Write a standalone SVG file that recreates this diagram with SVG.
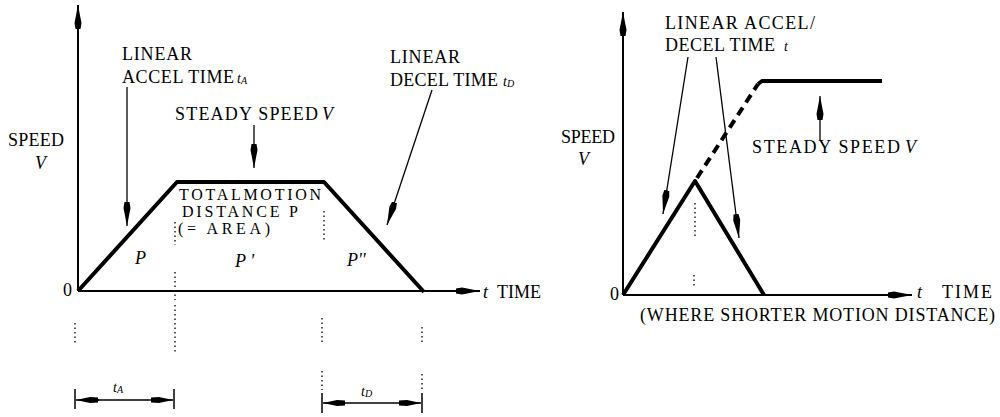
<svg xmlns="http://www.w3.org/2000/svg" width="1000" height="417" viewBox="0 0 1000 417">
<defs>
<marker id="ah" viewBox="0 0 24 8" refX="24" refY="4" markerWidth="24" markerHeight="8" markerUnits="userSpaceOnUse" orient="auto">
<path d="M0,1.5 L6,0.5 L24,4 L6,7.5 L0,6.5 Z" fill="#000"/>
</marker>
<marker id="ahs" viewBox="0 0 22 7" refX="22" refY="3.5" markerWidth="22" markerHeight="7" markerUnits="userSpaceOnUse" orient="auto">
<path d="M0,1 L8,0.5 L22,3.5 L8,6.5 L0,6 Z" fill="#000"/>
</marker>
</defs>
<style>
text{font-family:"Liberation Serif","Times New Roman",serif;font-size:18px;fill:#000}
.i{font-style:italic}
.s{font-size:14px;font-style:italic}
.b{font-size:16px}
.ax{stroke:#000;stroke-width:2;fill:none}
.cv{stroke:#000;stroke-width:4;fill:none;stroke-linejoin:round}
.ld{stroke:#000;stroke-width:1.3;fill:none}
.dt{stroke:#000;stroke-width:1.3;stroke-dasharray:1.5 3;fill:none}
.dim{stroke:#000;stroke-width:1.5;fill:none}
</style>
<g id="left-chart">
<g id="axes-left">
<line class="ax" x1="78" y1="291" x2="78" y2="5" marker-end="url(#ah)"/>
<line class="ax" x1="78" y1="291" x2="480" y2="291" marker-end="url(#ah)"/>
<text x="63" y="296">0</text>
<text x="8" y="146" textLength="56" lengthAdjust="spacing">SPEED</text>
<text x="35" y="169" class="i">V</text>
<text x="483" y="298" class="i">t</text>
<text x="497" y="298" textLength="44" lengthAdjust="spacing">TIME</text>
</g>
<g id="trapezoid">
<polyline class="cv" points="78,291 177,182 324,182 424,292"/>
</g>
<g id="label-accel">
<text x="122" y="60" textLength="70" lengthAdjust="spacing">LINEAR</text>
<text x="122" y="83" textLength="112" lengthAdjust="spacing">ACCEL TIME</text>
<text x="237" y="83" class="s">t<tspan font-size="10" dy="1">A</tspan></text>
</g>
<g id="label-steady">
<text x="175" y="120" textLength="143" lengthAdjust="spacing">STEADY SPEED</text>
<text x="322" y="120" class="i">V</text>
</g>
<g id="label-decel">
<text x="390" y="63" textLength="70" lengthAdjust="spacing">LINEAR</text>
<text x="390" y="86" textLength="108" lengthAdjust="spacing">DECEL TIME</text>
<text x="503" y="86" class="s">t<tspan font-size="10" dy="1">D</tspan></text>
</g>
<g id="label-total">
<text x="179" y="200" class="b" textLength="142" lengthAdjust="spacing">TOTALMOTION</text>
<text x="182" y="217" class="b" textLength="116" lengthAdjust="spacing">DISTANCE P</text>
<text x="178" y="234" class="b" textLength="92" lengthAdjust="spacing">(= AREA)</text>
</g>
<g id="areas">
<text x="135" y="264" class="i">P</text>
<text x="235" y="267" class="i">P '</text>
<text x="347" y="266" class="i">P''</text>
</g>
<g id="dim-ta">
<line class="dim" x1="75" y1="389" x2="75" y2="409"/>
<line class="dim" x1="174" y1="389" x2="174" y2="409"/>
<line class="dim" x1="98" y1="400" x2="152" y2="400"/>
<line class="dim" x1="99" y1="400" x2="76" y2="400" marker-end="url(#ahs)"/>
<line class="dim" x1="151" y1="400" x2="173" y2="400" marker-end="url(#ahs)"/>
<text x="113" y="392" class="s">t<tspan font-size="10" dy="1">A</tspan></text>
</g>
<g id="dim-td">
<line class="dim" x1="322" y1="393" x2="322" y2="413"/>
<line class="dim" x1="422" y1="393" x2="422" y2="413"/>
<line class="dim" x1="344" y1="403" x2="400" y2="403"/>
<line class="dim" x1="345" y1="403" x2="323" y2="403" marker-end="url(#ahs)"/>
<line class="dim" x1="399" y1="403" x2="421" y2="403" marker-end="url(#ahs)"/>
<text x="361" y="396" class="s">t<tspan font-size="10" dy="1">D</tspan></text>
</g>
</g>
<g id="right-chart">
<g id="axes-right">
<line class="ax" x1="623" y1="295" x2="623" y2="12" marker-end="url(#ah)"/>
<line class="ax" x1="623" y1="295" x2="912" y2="295" marker-end="url(#ah)"/>
<text x="610" y="300">0</text>
<text x="561" y="143" textLength="54" lengthAdjust="spacing">SPEED</text>
<text x="578" y="165" class="i">V</text>
<text x="917" y="298" class="i">t</text>
<text x="942" y="298" textLength="50" lengthAdjust="spacing">TIME</text>
<text x="640" y="321" textLength="355" lengthAdjust="spacing">(WHERE SHORTER MOTION DISTANCE)</text>
</g>
<g id="triangle">
<polyline class="cv" points="623,295 695,181 764,295"/>
</g>
<g id="steady-line">
<line class="cv" x1="697" y1="178" x2="758" y2="84" stroke-dasharray="9 6"/>
<polyline class="cv" points="758,84 762,81 882,81"/>
</g>
<g id="label-accel-decel">
<text x="665" y="29" textLength="150" lengthAdjust="spacing">LINEAR ACCEL/</text>
<text x="665" y="51" textLength="110" lengthAdjust="spacing">DECEL TIME</text>
<text x="784" y="51" class="s">t</text>
</g>
<g id="label-steady-right">
<text x="752" y="153" textLength="148" lengthAdjust="spacing">STEADY SPEED</text>
<text x="905" y="153" class="i">V</text>
</g>
</g>
<g id="connectors">
<line class="ld" x1="127" y1="87" x2="127" y2="226" marker-end="url(#ah)"/>
<line class="ld" x1="254" y1="125" x2="254" y2="168" marker-end="url(#ah)"/>
<line class="ld" x1="432" y1="90" x2="387" y2="225" marker-end="url(#ah)"/>
<line class="ld" x1="688" y1="57" x2="663" y2="214" marker-end="url(#ah)"/>
<line class="ld" x1="716" y1="57" x2="739" y2="238" marker-end="url(#ah)"/>
<line class="ld" x1="820" y1="140" x2="820" y2="96" marker-end="url(#ah)"/>
</g>
<g id="dotted-guides">
<line class="dt" x1="175" y1="222" x2="175" y2="245"/>
<line class="dt" x1="175" y1="272" x2="175" y2="300"/>
<line class="dt" x1="324" y1="211" x2="324" y2="240"/>
<line class="dt" x1="75" y1="323" x2="75" y2="345"/>
<line class="dt" x1="175" y1="305" x2="175" y2="354"/>
<line class="dt" x1="322" y1="318" x2="322" y2="343"/>
<line class="dt" x1="322" y1="371" x2="322" y2="390"/>
<line class="dt" x1="422" y1="327" x2="422" y2="345"/>
<line class="dt" x1="422" y1="374" x2="422" y2="390"/>
<line class="dt" x1="695" y1="203" x2="695" y2="237"/>
<line class="dt" x1="694" y1="275" x2="694" y2="288"/>
</g>
</svg>
